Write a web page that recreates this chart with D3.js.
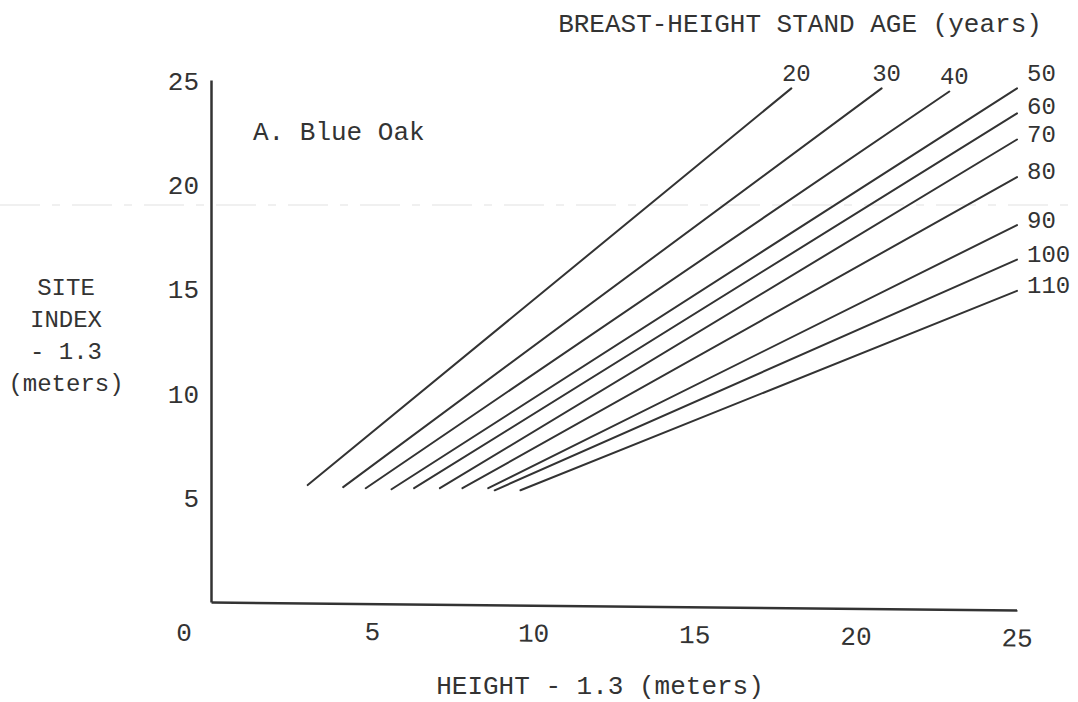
<!DOCTYPE html>
<html>
<head>
<meta charset="utf-8">
<script src="https://cdn.jsdelivr.net/npm/d3@7"></script>
<style>
  body { margin: 0; background: #fff; }
  text { font-family: "Liberation Mono", "DejaVu Sans Mono", monospace; fill: #333; }
</style>
</head>
<body>
<div id="wrapper"></div>
<script>
// breast-height stand age curves (years)
const ages = [20, 30, 40, 50, 60, 70, 80, 90, 100, 110];
// start of each curve: height - 1.3 (m), site index - 1.3 (m)
const startHeight = [3.0, 4.1, 4.8, 5.6, 6.3, 7.1, 7.8, 8.6, 8.8, 9.6];
const startSite   = [5.6, 5.5, 5.45, 5.4, 5.45, 5.45, 5.45, 5.45, 5.35, 5.35];
// end of each curve
const endHeight = [18.0, 20.8, 22.9, 25.0, 25.0, 25.0, 25.0, 25.0, 25.0, 25.0];
const endSite   = [24.6, 24.6, 24.45, 24.6, 23.4, 22.15, 20.35, 18.05, 16.4, 14.9];

const xTicks = [5, 10, 15, 20, 25];
const yTicks = [5, 10, 15, 20, 25];

const width = 1078, height = 702;

const svg = d3.select("#wrapper")
  .append("svg")
  .attr("width", width)
  .attr("height", height);

const x = d3.scaleLinear().domain([0, 25]).range([211, 1017]);
const y = d3.scaleLinear().domain([0, 25]).range([602, 80]);

// faint scanner streak
svg.append("line")
  .attr("x1", 0).attr("x2", width)
  .attr("y1", 205).attr("y2", 205)
  .attr("stroke", "#ebebeb")
  .attr("stroke-width", 1.5)
  .attr("stroke-dasharray", "40 12 8 12");

// y axis
const yAxis = svg.append("g")
  .attr("transform", `translate(${x(0)},0)`)
  .call(d3.axisLeft(y).tickValues(yTicks).tickSize(0).tickPadding(12));
yAxis.select(".domain").attr("stroke", "#333").attr("stroke-width", 2.5);
yAxis.selectAll(".tick text")
  .style("font-size", "26px")
  .attr("dy", "0.35em");

// x axis (page is slightly skewed in the scan)
const xAxis = svg.append("g")
  .attr("transform", `translate(0,${y(0)}) rotate(0.57, ${x(0)}, 0)`)
  .call(d3.axisBottom(x).tickValues(xTicks).tickSize(0).tickPadding(18));
xAxis.select(".domain").attr("stroke", "#333").attr("stroke-width", 2.5);
xAxis.selectAll(".tick text").style("font-size", "26px");

svg.append("text")
  .attr("x", 184).attr("y", y(0) + 30)
  .attr("dy", "0.35em")
  .attr("text-anchor", "middle")
  .style("font-size", "26px")
  .text("0");

// age curves
const curves = ages.map((a, i) => ({
  age: a,
  points: [[startHeight[i], startSite[i]], [endHeight[i], endSite[i]]]
}));

const line = d3.line()
  .x(d => x(d[0]))
  .y(d => y(d[1]));

svg.append("g")
  .selectAll("path")
  .data(curves)
  .enter()
  .append("path")
  .attr("d", d => line(d.points))
  .attr("fill", "none")
  .attr("stroke", "#333")
  .attr("stroke-width", 2)
  .attr("stroke-linecap", "round");

// age labels at the ends
svg.append("g")
  .selectAll("text")
  .data(curves)
  .enter()
  .append("text")
  .attr("x", d => d.age < 50 ? x(d.points[1][0]) + 5 : 1027)
  .attr("y", d => {
    const ey = y(d.points[1][1]);
    if (d.age <= 50) return ey - 16;
    if (d.age === 60) return ey - 8;
    return ey - 6;
  })
  .attr("dy", "0.35em")
  .attr("text-anchor", d => d.age < 50 ? "middle" : "start")
  .style("font-size", "24px")
  .text(d => d.age);

// titles
svg.append("text")
  .attr("x", 800).attr("y", 23)
  .attr("dy", "0.35em")
  .attr("text-anchor", "middle")
  .style("font-size", "26px")
  .text("BREAST-HEIGHT STAND AGE (years)");

svg.append("text")
  .attr("x", 253).attr("y", 131)
  .attr("dy", "0.35em")
  .style("font-size", "26px")
  .text("A. Blue Oak");

svg.append("text")
  .attr("x", 600).attr("y", 685)
  .attr("dy", "0.35em")
  .attr("text-anchor", "middle")
  .style("font-size", "26px")
  .text("HEIGHT - 1.3 (meters)");

const yLabel = ["SITE", "INDEX", "- 1.3", "(meters)"];
svg.append("g")
  .selectAll("text")
  .data(yLabel)
  .enter()
  .append("text")
  .attr("x", 66)
  .attr("y", (d, i) => 287 + i * 32)
  .attr("dy", "0.35em")
  .attr("text-anchor", "middle")
  .style("font-size", "24px")
  .text(d => d);
</script>
</body>
</html>
